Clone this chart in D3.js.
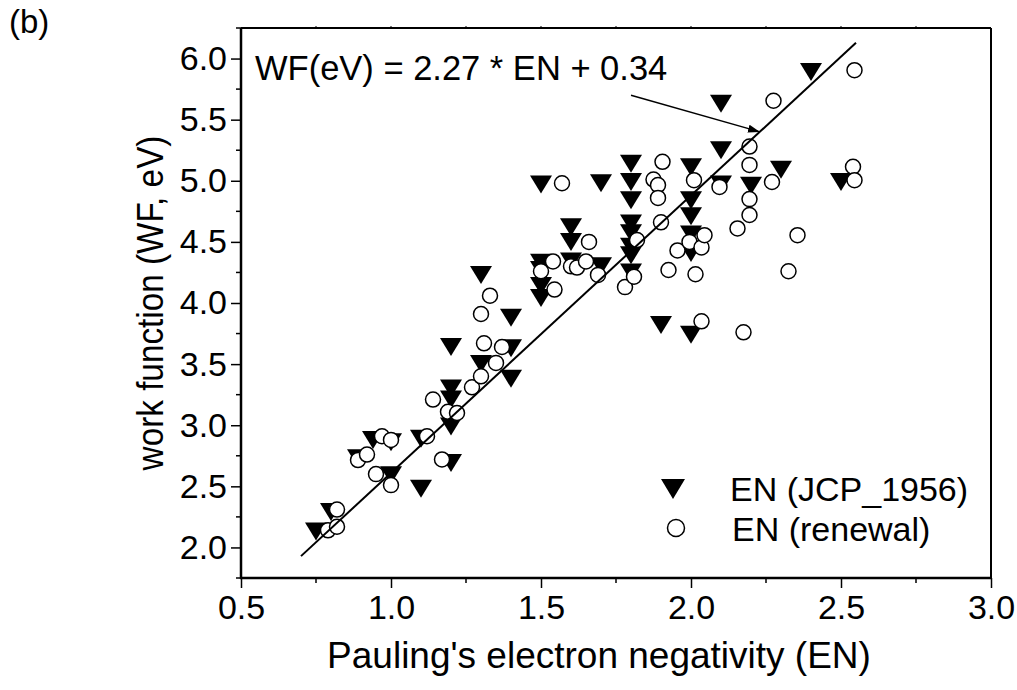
<!DOCTYPE html>
<html>
<head>
<meta charset="utf-8">
<script src="https://cdn.jsdelivr.net/npm/d3@7"></script>
<style>
  body { margin: 0; background: #fff; }
  text { font-family: Arial, "Liberation Sans", sans-serif; fill: #000; }
</style>
</head>
<body>
<script>
// EN (JCP_1956) - filled down triangles
var jcpEN = [0.75, 0.80, 0.89, 0.94, 1.00, 1.00, 1.10, 1.10, 1.20, 1.20, 1.20, 1.20, 1.20,
  1.30, 1.30, 1.40, 1.40, 1.40, 1.50, 1.50, 1.50, 1.50, 1.50, 1.60, 1.60, 1.60, 1.70, 1.70,
  1.80, 1.80, 1.80, 1.80, 1.80, 1.80, 1.80, 1.80, 1.90, 2.00, 2.00, 2.00, 2.00, 2.00, 2.00,
  2.10, 2.10, 2.10, 2.20, 2.30, 2.40, 2.50];
var jcpWF = [2.13, 2.29, 2.73, 2.88, 2.86, 2.59, 2.48, 2.89, 2.69, 2.99, 3.21, 3.30, 3.64,
  3.50, 4.23, 3.38, 3.63, 3.88, 4.04, 4.14, 4.27, 4.33, 4.97, 4.34, 4.50, 4.62, 4.30, 4.98,
  4.25, 4.39, 4.46, 4.57, 4.65, 4.84, 4.99, 5.14, 3.82, 3.74, 4.41, 4.56, 4.71, 4.84, 5.11,
  4.97, 5.25, 5.63, 4.96, 5.09, 5.89, 4.99];

// EN (renewal) - open circles
var newEN = [0.79, 0.82, 0.82, 0.89, 0.92, 0.95, 0.97, 1.00, 1.00, 1.12, 1.14, 1.17, 1.19, 1.22,
  1.27, 1.30, 1.30, 1.31, 1.33, 1.35, 1.37, 1.50, 1.54, 1.545, 1.57, 1.60, 1.62, 1.65, 1.66,
  1.69, 1.78, 1.81, 1.82, 1.875, 1.89, 1.89, 1.90, 1.905, 1.925, 1.955, 1.995, 2.01, 2.015,
  2.035, 2.035, 2.045, 2.095, 2.155, 2.175, 2.195, 2.195, 2.195, 2.195, 2.27, 2.275, 2.325,
  2.355, 2.54, 2.545, 2.545];
var newWF = [2.14, 2.17, 2.31, 2.715, 2.76, 2.60, 2.91, 2.88, 2.51, 2.91, 3.21, 2.72, 3.11, 3.10,
  3.31, 3.40, 3.91, 3.67, 4.06, 3.51, 3.64, 4.26, 4.34, 4.11, 4.98, 4.30, 4.29, 4.34, 4.50,
  4.23, 4.13, 4.215, 4.515, 5.01, 4.965, 4.86, 4.66, 5.155, 4.27, 4.43, 4.50, 5.005, 4.235,
  3.85, 4.455, 4.555, 4.95, 4.61, 3.76, 4.72, 4.85, 5.13, 5.28, 4.99, 5.655, 4.26,
  4.555, 5.115, 5.005, 5.905];

// fit: WF = 2.27 * EN + 0.34
var fitSlope = 2.27, fitIntercept = 0.34;
var fitRange = [0.70, 2.55];
var arrowFrom = [1.80, 5.70], arrowTo = [2.23, 5.40];

var xTicks = [0.5, 1.0, 1.5, 2.0, 2.5, 3.0];
var yTicks = [2.0, 2.5, 3.0, 3.5, 4.0, 4.5, 5.0, 5.5, 6.0];

var width = 1017, height = 690;
var margin = {top: 28, right: 26, bottom: 112, left: 241};

var xScale = d3.scaleLinear().domain([0.5, 3.0]).range([margin.left, width - margin.right]);
var yScale = d3.scaleLinear().domain([1.75, 6.25]).range([height - margin.bottom, margin.top]);

var svg = d3.select("body").append("svg")
    .attr("width", width)
    .attr("height", height);

var x0 = xScale.range()[0], x1 = xScale.range()[1];
var y0 = yScale.range()[0], y1 = yScale.range()[1];

// axes
var xAxis = d3.axisBottom(xScale).tickValues(xTicks).tickSize(10).tickPadding(7)
    .tickFormat(d3.format(".1f"));
var yAxis = d3.axisLeft(yScale).tickValues(yTicks).tickSize(10).tickPadding(4)
    .tickFormat(d3.format(".1f"));

var gx = svg.append("g").attr("transform", "translate(0," + y0 + ")").call(xAxis);
var gy = svg.append("g").attr("transform", "translate(" + x0 + ",0)").call(yAxis);

[gx, gy].forEach(function(g) {
  g.select(".domain").remove();
  g.selectAll("line").attr("stroke", "#000").attr("stroke-width", 1.5);
  g.selectAll("text").style("font-size", "34px").attr("fill", "#000");
});

// minor ticks
var xMinor = d3.range(0.75, 3.0, 0.5);
var yMinor = d3.range(1.75, 6.3, 0.5);
svg.append("g").selectAll("line").data(xMinor).enter().append("line")
    .attr("x1", function(d) { return xScale(d); }).attr("x2", function(d) { return xScale(d); })
    .attr("y1", y0).attr("y2", y0 + 5)
    .attr("stroke", "#000").attr("stroke-width", 1.5);
svg.append("g").selectAll("line").data(yMinor).enter().append("line")
    .attr("y1", function(d) { return yScale(d); }).attr("y2", function(d) { return yScale(d); })
    .attr("x1", x0).attr("x2", x0 - 5)
    .attr("stroke", "#000").attr("stroke-width", 1.5);

// small ticks on top axis
svg.append("g").selectAll("line").data(d3.range(0.75, 3.0, 0.25)).enter().append("line")
    .attr("x1", function(d) { return xScale(d); }).attr("x2", function(d) { return xScale(d); })
    .attr("y1", y1).attr("y2", y1 - 2)
    .attr("stroke", "#000").attr("stroke-width", 1);

// frame
svg.append("line").attr("x1", x0).attr("x2", x1).attr("y1", y1).attr("y2", y1)
    .attr("stroke", "#000").attr("stroke-width", 2);
svg.append("line").attr("x1", x1).attr("x2", x1).attr("y1", y1).attr("y2", y0)
    .attr("stroke", "#000").attr("stroke-width", 2);
svg.append("line").attr("x1", x0 - 1).attr("x2", x1 + 1).attr("y1", y0).attr("y2", y0)
    .attr("stroke", "#000").attr("stroke-width", 2.5);
svg.append("line").attr("x1", x0).attr("x2", x0).attr("y1", y1).attr("y2", y0 + 1)
    .attr("stroke", "#000").attr("stroke-width", 2.5);

// points
var tri = "M-11,-9L11,-9L0,9Z";
svg.append("g").selectAll("path").data(d3.range(jcpEN.length)).enter().append("path")
    .attr("d", tri)
    .attr("transform", function(i) {
      return "translate(" + xScale(jcpEN[i]) + "," + yScale(jcpWF[i]) + ")";
    })
    .attr("fill", "#000");

svg.append("g").selectAll("circle").data(d3.range(newEN.length)).enter().append("circle")
    .attr("cx", function(i) { return xScale(newEN[i]); })
    .attr("cy", function(i) { return yScale(newWF[i]); })
    .attr("r", 7.5)
    .attr("fill", "#fff")
    .attr("stroke", "#000")
    .attr("stroke-width", 1.5);

// fit line
var line = d3.line()
    .x(function(d) { return xScale(d); })
    .y(function(d) { return yScale(fitSlope * d + fitIntercept); });
svg.append("path").datum(fitRange).attr("d", line)
    .attr("fill", "none").attr("stroke", "#000").attr("stroke-width", 2);

// arrow + equation
svg.append("defs").append("marker")
    .attr("id", "head").attr("viewBox", "0 -5 12 10")
    .attr("refX", 12).attr("refY", 0)
    .attr("markerWidth", 12).attr("markerHeight", 10)
    .attr("markerUnits", "userSpaceOnUse")
    .attr("orient", "auto")
    .append("path").attr("d", "M0,-4L12,0L0,4Z").attr("fill", "#000");

svg.append("line")
    .attr("x1", xScale(arrowFrom[0])).attr("y1", yScale(arrowFrom[1]))
    .attr("x2", xScale(arrowTo[0])).attr("y2", yScale(arrowTo[1]))
    .attr("stroke", "#000").attr("stroke-width", 1.5)
    .attr("marker-end", "url(#head)");

svg.append("text")
    .attr("x", 255).attr("y", 80)
    .style("font-size", "34.5px")
    .text("WF(eV) = 2.27 * EN + 0.34");

// legend
svg.append("path").attr("d", "M-12,-10L12,-10L0,10Z")
    .attr("transform", "translate(673,489)").attr("fill", "#000");
svg.append("circle").attr("cx", 676).attr("cy", 528).attr("r", 8.5)
    .attr("fill", "#fff").attr("stroke", "#000").attr("stroke-width", 1.5);
svg.append("text").attr("x", 730).attr("y", 501).style("font-size", "34px").text("EN (JCP_1956)");
svg.append("text").attr("x", 732).attr("y", 541).style("font-size", "34px").text("EN (renewal)");

// axis titles
svg.append("text")
    .attr("x", 599).attr("y", 668)
    .style("text-anchor", "middle")
    .style("font-size", "37px")
    .text("Pauling's electron negativity (EN)");

svg.append("text")
    .attr("transform", "translate(163," + ((y0 + y1) / 2) + ") rotate(-90) scale(0.9,1)")
    .style("text-anchor", "middle")
    .style("font-size", "37px")
    .text("work function (WF, eV)");

svg.append("text")
    .attr("x", 9).attr("y", 33)
    .style("font-size", "33px")
    .text("(b)");
</script>
</body>
</html>
